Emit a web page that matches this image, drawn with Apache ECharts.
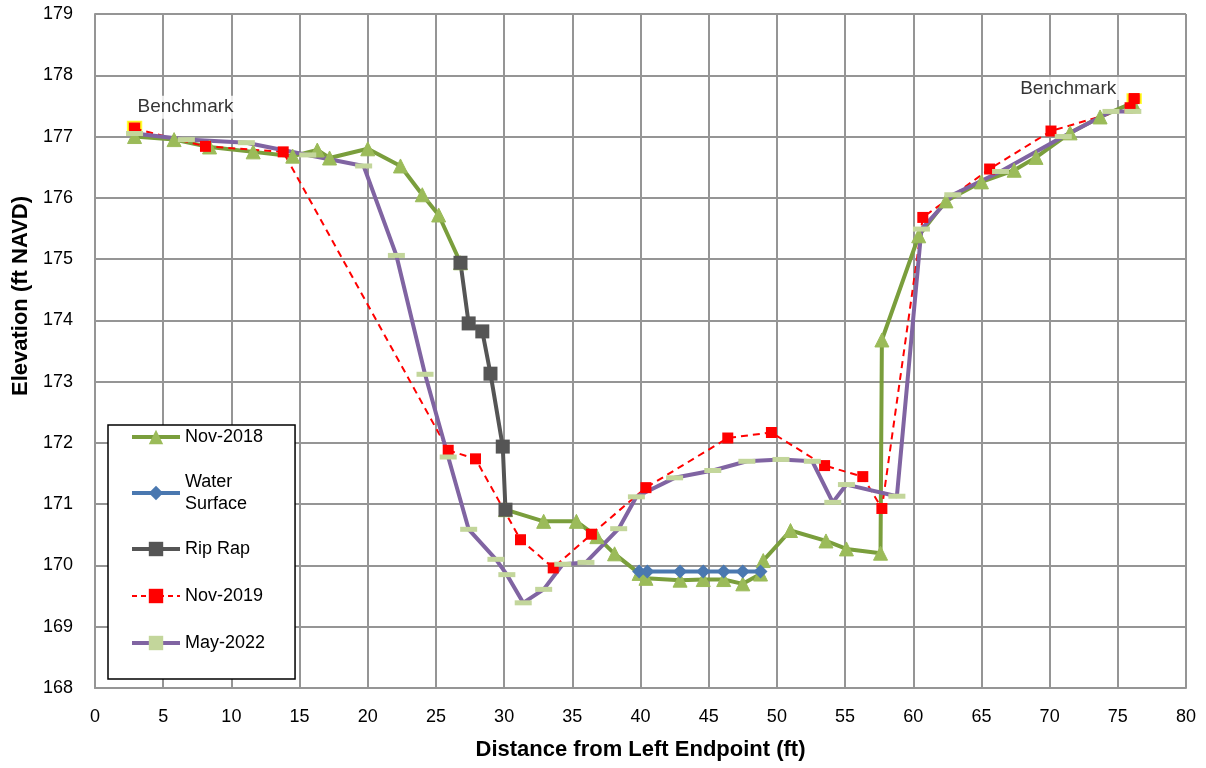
<!DOCTYPE html>
<html>
<head>
<meta charset="utf-8">
<script src="https://cdn.jsdelivr.net/npm/echarts@6/dist/echarts.min.js"></script>
<style>html,body{margin:0;padding:0;background:#fff;}#chart{width:1206px;height:768px;}</style>
</head>
<body>
<div id="chart"></div>
<script>
// Distance (ft), Elevation (ft NAVD)
var nov2018 = [[2.9,177.0],[5.8,176.95],[8.4,176.83],[11.6,176.75],[14.5,176.68],[16.3,176.78],[17.2,176.65],[20.0,176.80],[22.4,176.52],[24.0,176.05],[25.2,175.72],[26.8,174.94],[28.5,'-'],[30.1,170.91],[32.9,170.72],[35.3,170.72],[36.8,170.47],[38.1,170.19],[39.9,169.87],[40.4,169.79],[42.9,169.76],[44.6,169.77],[46.1,169.77],[47.5,169.70],[48.8,169.86],[49.0,170.08],[51.0,170.57],[53.6,170.40],[55.1,170.27],[57.6,170.20],[57.7,173.68],[60.4,175.38],[62.4,175.95],[65.0,176.26],[67.4,176.45],[69.0,176.66],[71.5,177.06],[73.7,177.32],[76.1,177.55]];
var waterSurface = [[39.9,169.9],[40.5,169.9],[42.9,169.9],[44.6,169.9],[46.1,169.9],[47.5,169.9],[48.8,169.9]];
var ripRap = [[26.8,174.94],[27.4,173.95],[28.4,173.82],[29.0,173.13],[29.9,171.94],[30.1,170.91]];
var nov2019 = [[2.9,177.13],[8.1,176.84],[13.8,176.75],[25.9,171.88],[27.9,171.74],[31.2,170.42],[33.6,169.96],[36.4,170.51],[40.4,171.27],[46.4,172.08],[49.6,172.17],[53.5,171.63],[56.3,171.45],[57.7,170.93],[60.7,175.68],[65.6,176.47],[70.1,177.09],[75.9,177.47],[76.2,177.62]];
var may2022 = [[2.9,177.05],[6.7,176.95],[11.1,176.9],[15.6,176.7],[19.7,176.52],[22.1,175.06],[24.2,173.12],[25.9,171.77],[27.4,170.59],[29.4,170.1],[30.2,169.85],[31.4,169.39],[32.9,169.61],[34.3,170.02],[36.0,170.05],[38.4,170.6],[39.7,171.12],[42.5,171.43],[45.3,171.55],[47.8,171.7],[50.3,171.73],[52.6,171.7],[54.1,171.03],[55.1,171.32],[58.8,171.13],[60.6,175.49],[62.9,176.05],[66.4,176.43],[71.0,177.0],[74.5,177.41],[76.1,177.41]];
var benchmarks = [[2.9,177.17],[76.2,177.62]];
var seriesNames = ['Nov-2018','Water Surface','Rip Rap','Nov-2019','May-2022'];
var benchmarkLabel = 'Benchmark';
var xTitle = 'Distance from Left Endpoint (ft)';
var yTitle = 'Elevation (ft NAVD)';

var FONT = '"Liberation Sans", Arial, sans-serif';
var chart = echarts.init(document.getElementById('chart'), null, {renderer:'canvas'});
var gridColor = '#959595';
chart.setOption({
  animation: false,
  backgroundColor: '#fff',
  textStyle: {fontFamily: FONT},
  grid: {left: 95, right: 20, top: 14, bottom: 80},
  xAxis: {
    type: 'value', min: 0, max: 80, interval: 5,
    name: xTitle, nameLocation: 'middle', nameGap: 51,
    nameTextStyle: {fontSize: 22, fontWeight: 'bold', color: '#000', fontFamily: FONT},
    axisLine: {show: true, lineStyle: {color: gridColor, width: 2}},
    axisTick: {show: false},
    axisLabel: {fontSize: 18, color: '#000', margin: 20, fontFamily: FONT},
    splitLine: {show: true, lineStyle: {color: gridColor, width: 2}}
  },
  yAxis: {
    type: 'value', min: 168, max: 179, interval: 1,
    name: yTitle, nameLocation: 'middle', nameGap: 62, nameRotate: 90,
    nameTextStyle: {fontSize: 22, fontWeight: 'bold', color: '#000', fontFamily: FONT, padding: [0,0,0,110]},
    axisLine: {show: true, lineStyle: {color: gridColor, width: 2}},
    axisTick: {show: false},
    axisLabel: {fontSize: 18, color: '#000', margin: 22, fontFamily: FONT},
    splitLine: {show: true, lineStyle: {color: gridColor, width: 2}}
  },
  legend: {
    orient: 'vertical', left: 108, top: 425,
    backgroundColor: '#fff', borderColor: '#000', borderWidth: 1.5,
    padding: [1, 30, 25, 22], itemGap: 25, itemWidth: 48, itemHeight: 18,
    textStyle: {fontSize: 18, color: '#000', lineHeight: 22, fontFamily: FONT},
    lineStyle: {width: 4},
    formatter: function (n) { return n === 'Water Surface' ? 'Water\nSurface' : n; },
    data: [
      {name: 'Nov-2018'},
      {name: 'Water Surface', textStyle: {padding: [0, 0, -22, 0], lineHeight: 22}},
      {name: 'Rip Rap'},
      {name: 'Nov-2019', lineStyle: {width: 2, type: [5, 4]}},
      {name: 'May-2022'}
    ]
  },
  series: [
    {
      name: seriesNames[0], type: 'line', data: nov2018, connectNulls: false,
      symbol: 'triangle', symbolSize: 14,
      lineStyle: {color: '#7a9e3c', width: 4},
      itemStyle: {color: '#9bbb59', borderColor: '#9bbb59'}
    },
    {
      name: seriesNames[1], type: 'line', data: waterSurface,
      symbol: 'diamond', symbolSize: 14,
      lineStyle: {color: '#4a78b0', width: 4},
      itemStyle: {color: '#4a78b0'}
    },
    {
      name: seriesNames[2], type: 'line', data: ripRap,
      symbol: 'rect', symbolSize: 14,
      lineStyle: {color: '#555555', width: 4},
      itemStyle: {color: '#555555'}
    },
    {
      name: seriesNames[3], type: 'line', data: nov2019,
      symbol: 'rect', symbolSize: 11,
      lineStyle: {color: '#ff0000', width: 2, type: [7, 5]},
      itemStyle: {color: '#ff0000'}
    },
    {
      name: seriesNames[4], type: 'line', data: may2022,
      symbol: 'rect', symbolSize: [17, 5],
      lineStyle: {color: '#8064a2', width: 4},
      itemStyle: {color: '#c3d69b'}
    },
    {
      name: benchmarkLabel, type: 'scatter', data: benchmarks, z: 1,
      symbol: 'rect', symbolSize: [13, 9],
      itemStyle: {color: '#ff0000', borderColor: '#ffff00', borderWidth: 2},
      label: {
        show: true, formatter: benchmarkLabel, fontSize: 19, color: '#000', fontFamily: FONT,
        backgroundColor: '#fff', padding: [2, 4],
        position: 'inside'
      },
      labelLayout: function (p) {
        var left = p.dataIndex === 0;
        return {dx: left ? 51 : -66, dy: left ? -19 : -10};
      }
    }
  ]
});
</script>
</body>
</html>
